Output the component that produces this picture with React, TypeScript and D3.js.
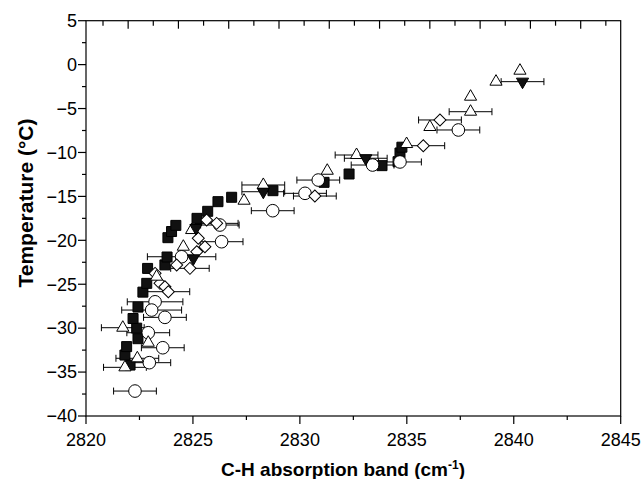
import React from 'react';
import * as d3 from 'd3';

const W = 643;
const H = 479;
const PLOT = { left: 86, right: 620.7, top: 20.7, bottom: 416 };

// Axis ticks
const xMajorTicks = [2820, 2825, 2830, 2835, 2840, 2845];
const xMinorTicks = [2822.5, 2827.5, 2832.5, 2837.5, 2842.5];
const yMajorTicks = [5, 0, -5, -10, -15, -20, -25, -30, -35, -40];
const yMinorTicks = [2.5, -2.5, -7.5, -12.5, -17.5, -22.5, -27.5, -32.5, -37.5];
const topTicks = d3.range(0, 21).map((i) => 2820.795 + i * 1.1755);

// Series: filled squares (no error bars)
const sqX = [2822.06, 2821.82, 2821.9, 2822.43, 2822.37, 2822.2, 2822.43, 2822.66, 2822.84, 2822.88, 2823.69, 2823.79, 2823.83, 2824.0, 2824.2, 2825.19, 2825.69, 2826.17, 2826.81, 2828.74, 2831.13, 2832.3, 2833.84, 2834.59, 2834.68, 2834.77];
const sqY = [-34.2, -33.06, -32.1, -31.2, -30.0, -28.9, -27.6, -25.9, -24.9, -23.2, -22.8, -21.9, -19.7, -19.0, -18.3, -17.5, -16.7, -15.6, -15.1, -14.35, -13.4, -12.45, -11.5, -11.05, -10.06, -9.4];

// Series: open circles
const ciX = [2837.41, 2834.68, 2833.4, 2830.86, 2830.24, 2828.73, 2826.26, 2826.34, 2824.47, 2823.23, 2823.07, 2823.69, 2822.91, 2823.59, 2822.96, 2822.29];
const ciY = [-7.44, -11.08, -11.43, -13.14, -14.65, -16.63, -18.26, -20.16, -21.87, -27.0, -27.94, -28.77, -30.52, -32.23, -33.93, -37.16];
const ciE = [1, 1, 1, 1, 1, 1, 0.9, 1, 1.6, 1.3, 1.4, 1, 1, 1, 1, 1];

// Series: open diamonds
const diX = [2836.55, 2835.77, 2830.7, 2826.11, 2825.64, 2825.25, 2825.56, 2825.18, 2824.24, 2824.86, 2823.23, 2823.46, 2823.69, 2823.85];
const diY = [-6.3, -9.23, -14.96, -18.07, -17.69, -19.77, -20.73, -21.3, -22.81, -23.19, -23.76, -24.9, -25.28, -25.85];
const diE = [1, 1, 1, 1, 0, 0, 0, 0, 0, 0.9, 0, 0, 0, 1];

// Series: open up-triangles
const trX = [2840.29, 2839.17, 2837.98, 2837.98, 2836.08, 2834.99, 2832.65, 2831.28, 2828.29, 2827.39, 2824.94, 2824.55, 2823.3, 2821.72, 2822.91, 2822.4, 2821.82];
const trY = [-0.69, -1.94, -3.65, -5.36, -7.1, -9.04, -10.29, -12.08, -13.7, -15.49, -18.83, -20.73, -24.14, -29.95, -31.66, -33.43, -34.46];
const trE = [0, 0, 0, 1, 0, 0, 1, 0, 1, 0, 0, 0, 0, 1, 0, 1, 1];

// Series: filled down-triangles
const dtX = [2840.41, 2833.08, 2828.29, 2825.14, 2825.02];
const dtY = [-1.94, -10.66, -14.47, -18.6, -22.05];
const dtE = [1, 1, 1, 0, 0];

const FONT = "'Liberation Sans', Arial, sans-serif";

export default function App() {
  const x = d3.scaleLinear().domain([2820, 2845]).range([PLOT.left, PLOT.right]);
  const y = d3.scaleLinear().domain([-40, 5]).range([PLOT.bottom, PLOT.top]);
  const fmt = y.tickFormat(10, 'd');
  const xfmt = d3.format('d');

  const square = d3.symbol(d3.symbolSquare, 100)()!;
  const circle = d3.symbol(d3.symbolCircle, 125)()!;
  const diamond = d3.symbol(d3.symbolSquare, 72)()!;
  const tri = d3.symbol(d3.symbolTriangle, 64)()!;

  const errBars = (xs: number[], ys: number[], es: number[], key: string) =>
    xs.map((xv, i) => {
      const e = es[i];
      if (!e) return null;
      const x0 = x(xv - e), x1 = x(xv + e), yy = y(ys[i]);
      return (
        <g key={key + i} stroke="#000" strokeWidth={1}>
          <line x1={x0} x2={x1} y1={yy} y2={yy} />
          <line x1={x0} x2={x0} y1={yy - 3.5} y2={yy + 3.5} />
          <line x1={x1} x2={x1} y1={yy - 3.5} y2={yy + 3.5} />
        </g>
      );
    });

  const marks = (xs: number[], ys: number[], d: string, fill: string, key: string, rot = 0) =>
    xs.map((xv, i) => (
      <path
        key={key + i}
        d={d}
        transform={`translate(${x(xv)},${y(ys[i])}) rotate(${rot})`}
        fill={fill}
        stroke="#000"
        strokeWidth={1}
      />
    ));

  return (
    <svg width={W} height={H} style={{ position: 'absolute', left: 0, top: 0, background: '#fff' }} fontFamily={FONT}>
      <rect x={0} y={0} width={W} height={H} fill="#fff" />
      {/* frame */}
      <rect x={PLOT.left} y={PLOT.top} width={PLOT.right - PLOT.left} height={PLOT.bottom - PLOT.top} fill="none" stroke="#000" strokeWidth={1.2} />
      {/* bottom axis ticks */}
      {xMajorTicks.map((t) => (
        <g key={'xm' + t}>
          <line x1={x(t)} x2={x(t)} y1={PLOT.bottom} y2={PLOT.bottom + 8} stroke="#000" strokeWidth={1.2} />
          <text x={x(t)} y={446} textAnchor="middle" fontSize={18}>{xfmt(t)}</text>
        </g>
      ))}
      {xMinorTicks.map((t) => (
        <line key={'xn' + t} x1={x(t)} x2={x(t)} y1={PLOT.bottom} y2={PLOT.bottom + 4} stroke="#000" strokeWidth={1.2} />
      ))}
      {/* top axis ticks */}
      {topTicks.map((t, i) => (
        <line key={'tt' + i} x1={x(t)} x2={x(t)} y1={PLOT.top} y2={PLOT.top + (i % 2 === 1 ? 8 : 5)} stroke="#000" strokeWidth={1.2} />
      ))}
      {/* left axis ticks */}
      {yMajorTicks.map((t) => (
        <g key={'ym' + t}>
          <line x1={PLOT.left - 8} x2={PLOT.left} y1={y(t)} y2={y(t)} stroke="#000" strokeWidth={1.2} />
          <text x={77} y={y(t)} dy="0.35em" textAnchor="end" fontSize={18}>{fmt(t)}</text>
        </g>
      ))}
      {yMinorTicks.map((t) => (
        <line key={'yn' + t} x1={PLOT.left - 4} x2={PLOT.left} y1={y(t)} y2={y(t)} stroke="#000" strokeWidth={1.2} />
      ))}
      {/* titles */}
      <text x={343} y={476} textAnchor="middle" fontSize={19} fontWeight="bold">
        C-H absorption band (cm<tspan dy={-7} fontSize={12}>-1</tspan><tspan dy={7}>)</tspan>
      </text>
      <text transform={`translate(33,${203}) rotate(-90)`} textAnchor="middle" fontSize={21} fontWeight="bold">
        Temperature (°C)
      </text>
      {/* data */}
      {errBars(ciX, ciY, ciE, 'ce')}
      {errBars(diX, diY, diE, 'de')}
      {errBars(trX, trY, trE, 'te')}
      {errBars(dtX, dtY, dtE, 'dte')}
      {marks(sqX, sqY, square, '#111', 'sq')}
      {marks(ciX, ciY, circle, '#fff', 'ci')}
      {marks(diX, diY, diamond, '#fff', 'di', 45)}
      {marks(trX, trY, tri, '#fff', 'tr')}
      {marks(dtX, dtY, tri, '#111', 'dt', 180)}
    </svg>
  );
}
